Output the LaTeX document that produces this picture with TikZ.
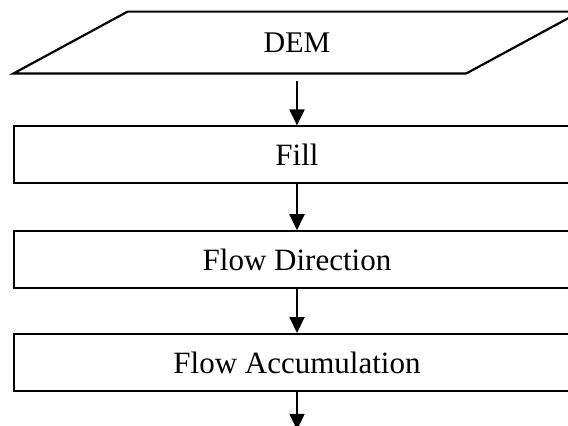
\documentclass[tikz,border=0pt]{standalone}
\usepackage{fontspec}
\setmainfont{Liberation Serif}
\usetikzlibrary{arrows.meta,positioning}

\begin{document}
\begin{tikzpicture}[
  box/.style={draw,line width=0.9pt,minimum width=283pt,minimum height=28.5pt,inner sep=0pt,font=\fontsize{15.5}{18}\selectfont},
  io/.style={minimum width=226pt,minimum height=30.5pt,inner sep=0pt,font=\fontsize{15}{17}\selectfont},
  ar/.style={-{Triangle[length=8pt,width=7.5pt]},line width=1pt}
]
\useasboundingbox (0,0) rectangle (284pt,-212.5pt);
\clip (0,0) rectangle (284pt,-212.5pt);
\node[io] (dem) at (148.5pt,-21.25pt) {DEM};
% slanted input box round the DEM node
\draw[line width=1.1pt] ([xshift=-28.5pt]dem.south west) -- ([xshift=-28.5pt]dem.south east)
  -- ([xshift=28.5pt]dem.north east) -- ([xshift=28.5pt]dem.north west) -- cycle;
\node[box,below=26pt of dem] (fill) {Fill};
\node[box,below=23pt of fill] (dir) {Flow Direction};
\node[box,below=22pt of dir] (acc) {Flow Accumulation};
\coordinate[below=19pt of acc] (out);
\draw[ar,shorten <=4pt] (dem) -- (fill);
\draw[ar] (fill) -- (dir); \draw[ar] (dir) -- (acc);
\draw[ar] (acc) -- (out);
\end{tikzpicture}
\end{document}
